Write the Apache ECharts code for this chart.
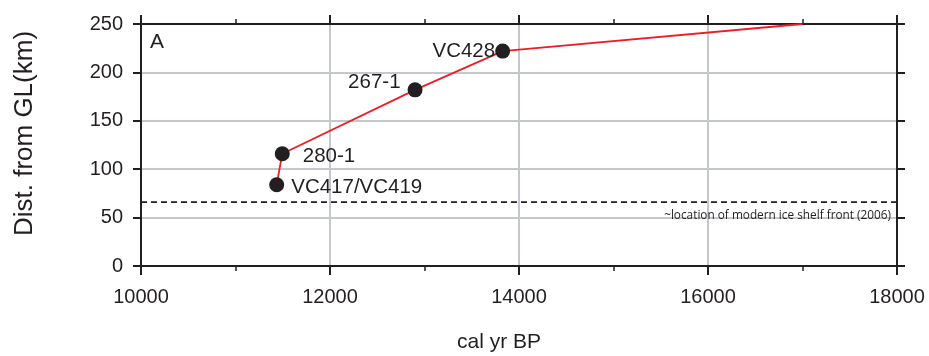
<!DOCTYPE html>
<html><head><meta charset="utf-8">
<script src="https://cdn.jsdelivr.net/npm/echarts@6/dist/echarts.min.js"></script>
<style>html,body{margin:0;padding:0;background:#fff}#c{width:929px;height:356px}</style>
</head><body><div id="c"></div>
<script>
// Data
const sampleNames = ['VC417/VC419', '280-1', '267-1', 'VC428'];
const sampleAges = [11436, 11495, 12900, 13827];
const sampleDist = [84, 116, 182, 222];
const lineEndAge = 17000;
const lineEndDist = 250;
const iceShelfFrontDist = 66;
const xTicks = [10000, 12000, 14000, 16000, 18000];
const yTicks = [0, 50, 100, 150, 200, 250];

const FONT = "'Liberation Sans', Arial, Helvetica, sans-serif";
const labelPos = {
  'VC417/VC419': {position: 'right', distance: 5, offset: [2, 3]},
  '280-1': {position: 'right', distance: 5, offset: [8, 3]},
  '267-1': {position: 'left', distance: 5, offset: [-2, -7]},
  'VC428': {position: 'left', distance: 0, offset: [0, 0]}
};

const ink = '#231f20';
const gridCol = '#c5c7ce';
const chart = echarts.init(document.getElementById('c'));
const baseAxis = {
  axisLine: {show: true, onZero: false, lineStyle: {color: ink, width: 2}},
  axisTick: {show: true, inside: false, length: 9, lineStyle: {color: ink, width: 2}},
};
chart.setOption({
  animation: false,
  textStyle: {fontFamily: FONT},
  grid: {left: 141, right: 32, top: 24, bottom: 90, containLabel: false, outerBoundsMode: 'none'},
  xAxis: [
    Object.assign({}, baseAxis, {
      type: 'value', min: xTicks[0], max: xTicks[xTicks.length-1], interval: 2000,
      position: 'bottom',
      minorTick: {show: true, splitNumber: 2, length: 5, lineStyle: {color: ink, width: 1.5}},
      splitLine: {show: true, lineStyle: {color: gridCol, width: 2}},
      axisLabel: {color: ink, fontSize: 20, margin: 21, fontFamily: FONT, formatter: v => String(v)},
      name: 'cal yr BP', nameLocation: 'middle', nameGap: 66,
      nameTextStyle: {color: ink, fontSize: 21, padding: [0, 40, 0, 0], fontFamily: FONT}
    }),
    Object.assign({}, baseAxis, {
      type: 'value', min: xTicks[0], max: xTicks[xTicks.length-1], interval: 2000,
      position: 'top',
      minorTick: {show: true, splitNumber: 2, length: 5, lineStyle: {color: ink, width: 1.5}},
      splitLine: {show: false}, axisLabel: {show: false}
    })
  ],
  yAxis: [
    Object.assign({}, baseAxis, {
      type: 'value', min: yTicks[0], max: yTicks[yTicks.length-1], interval: 50,
      position: 'left',
      axisTick: {show: true, inside: false, length: 8, lineStyle: {color: ink, width: 2}},
      splitLine: {show: true, lineStyle: {color: gridCol, width: 2}},
      axisLabel: {color: ink, fontSize: 20, margin: 18, fontFamily: FONT, formatter: v => String(v)},
      name: 'Dist. from GL(km)', nameLocation: 'middle', nameGap: 103, nameRotate: 90,
      nameTextStyle: {color: ink, fontSize: 26, padding: [0, 0, 0, 23], fontFamily: FONT}
    }),
    Object.assign({}, baseAxis, {
      type: 'value', min: yTicks[0], max: yTicks[yTicks.length-1], interval: 50,
      position: 'right',
      axisTick: {show: true, inside: false, length: 8, lineStyle: {color: ink, width: 2}},
      splitLine: {show: false}, axisLabel: {show: false}
    })
  ],
  series: [
    {
      type: 'line', xAxisIndex: 0, yAxisIndex: 0, symbol: 'none', silent: true,
      lineStyle: {color: ink, width: 1.8, type: [6, 4]},
      data: [[xTicks[0], iceShelfFrontDist], [xTicks[xTicks.length-1], iceShelfFrontDist]],
      z: 3
    },
    {
      type: 'line', xAxisIndex: 0, yAxisIndex: 0, symbol: 'none',
      lineStyle: {color: '#ee1c25', width: 1.8},
      data: sampleAges.map((a, i) => [a, sampleDist[i]]).concat([[lineEndAge, lineEndDist]]),
      z: 4
    },
    {
      type: 'scatter', xAxisIndex: 0, yAxisIndex: 0, symbolSize: 15,
      itemStyle: {color: ink, opacity: 1},
      data: sampleAges.map((a, i) => ({
        value: [a, sampleDist[i]], name: sampleNames[i],
        label: Object.assign({show: true, formatter: sampleNames[i], color: ink, opacity: 1, fontSize: 20.5,
          fontFamily: FONT}, labelPos[sampleNames[i]])
      })),
      z: 5
    }
  ],
  graphic: [
    {type: 'text', left: 150, top: 32, z: 10, style: {text: 'A', fill: ink, font: "21px 'Liberation Sans', Arial, sans-serif"}},
    {type: 'text', right: 38, top: 210, z: 10, style: {text: '~location of modern ice shelf front (2006)', fill: ink, font: "11.8px 'Open Sans', sans-serif"}}
  ]
});
</script></body></html>
